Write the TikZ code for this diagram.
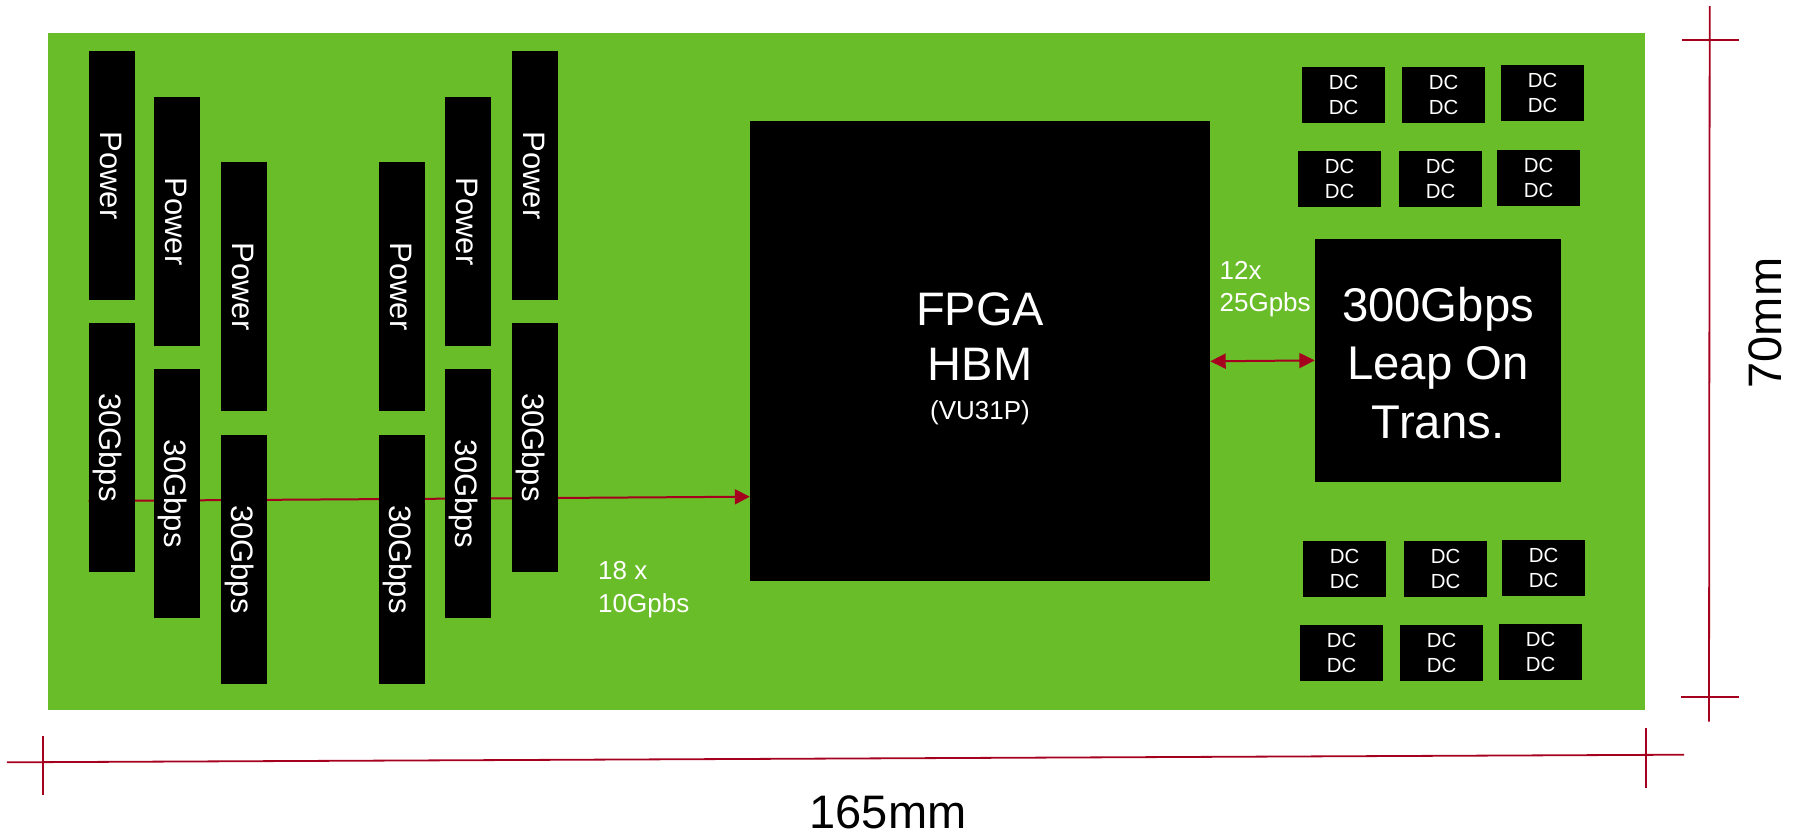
\documentclass[tikz,border=0pt]{standalone}
\usepackage{fontspec}
\usepackage{graphicx}
\setmainfont{Liberation Sans}
\usetikzlibrary{arrows.meta}
\pgfdeclarelayer{boardlayer}
\pgfdeclarelayer{linklayer}
\pgfsetlayers{boardlayer,linklayer,main}
\definecolor{boardgreen}{HTML}{69BD28}
\definecolor{dimred}{HTML}{A6001F}
\newcommand{\fs}[2]{\fontsize{#1pt}{#2pt}\selectfont}
\newcommand{\vtext}[1]{\rotatebox[origin=c]{-90}{\vphantom{Gp}#1}\hspace{8pt}}
\tikzset{
  chip/.style={fill=black,text=white,inner sep=0pt,align=center},
  tallbox/.style={chip,minimum width=46pt,minimum height=249pt,font=\fs{31}{36}},
  dcbox/.style={chip,minimum width=83pt,minimum height=56pt,font=\fs{20.4}{24.5}},
  dimline/.style={draw=dimred,line width=1.8pt},
  link/.style={draw=dimred,line width=2pt},
  speed/.style={text=white,inner sep=0pt,anchor=base west,align=left,font=\fs{26}{32.5}},
  dimtext/.style={inner sep=0pt,text=black,font=\fs{47}{50}}
}
\begin{document}
\begin{tikzpicture}[x=1pt,y=-1pt]
\useasboundingbox (0,0) rectangle (1797,833);
\begin{pgfonlayer}{boardlayer}
\node[fill=boardgreen,inner sep=0pt,minimum width=1597pt,minimum height=677pt] (board) at (846.5,371.3) {};
\end{pgfonlayer}
% power and link boxes
\node[tallbox] (p1) at (111.9,175.5) {\vtext{Power}};
\node[tallbox] (g1) at (111.9,447.4) {\vtext{30Gbps}};
\node[tallbox] (p2) at (177,221.5) {\vtext{Power}};
\node[tallbox] (g2) at (177,493.4) {\vtext{30Gbps}};
\node[tallbox] (p3) at (244,286.5) {\vtext{Power}};
\node[tallbox] (g3) at (244,559.4) {\vtext{30Gbps}};
\node[tallbox] (p4) at (402,286.5) {\vtext{Power}};
\node[tallbox] (g4) at (402,559.4) {\vtext{30Gbps}};
\node[tallbox] (p5) at (468,221.5) {\vtext{Power}};
\node[tallbox] (g5) at (468,493.4) {\vtext{30Gbps}};
\node[tallbox] (p6) at (535,175.5) {\vtext{Power}};
\node[tallbox] (g6) at (535,447.4) {\vtext{30Gbps}};
% main chips
\node[chip,minimum width=460pt,minimum height=460pt,font=\fs{47}{55}] (fpga) at (980,351) {\rule{0pt}{48.4pt}FPGA\\HBM\\[-16.4pt]\fs{26}{30}(VU31P)};
\node[chip,minimum width=246pt,minimum height=243pt,font=\fs{47.3}{58.5}] (trans) at (1438,360.4) {\rule{0pt}{39pt}300Gbps\\Leap On\\Trans.};
% DC-DC converters
\node[dcbox] (d11) at (1343.5,95) {DC\\DC};
\node[dcbox] (d12) at (1443.5,95) {DC\\DC};
\node[dcbox] (d13) at (1542.5,93) {DC\\DC};
\node[dcbox] (d21) at (1339.5,179) {DC\\DC};
\node[dcbox] (d22) at (1440.7,179) {DC\\DC};
\node[dcbox] (d23) at (1538.7,178) {DC\\DC};
\node[dcbox] (d31) at (1344.7,569) {DC\\DC};
\node[dcbox] (d32) at (1445.5,569) {DC\\DC};
\node[dcbox] (d33) at (1543.5,568) {DC\\DC};
\node[dcbox] (d41) at (1341.5,653) {DC\\DC};
\node[dcbox] (d42) at (1441.5,653) {DC\\DC};
\node[dcbox] (d43) at (1540.5,652) {DC\\DC};
% connectors
\begin{pgfonlayer}{linklayer}
\draw[link,-{Triangle[length=15pt,width=15pt]}] ([yshift=-53.6pt]g1.west) -- ([yshift=-145.7pt]fpga.west);
\end{pgfonlayer}
\draw[link,{Triangle[length=15.5pt,width=15pt]}-{Triangle[length=15.5pt,width=15pt]}] ([yshift=-10.3pt]fpga.east) -- (trans.west);
% speed labels
\node[speed] (l18) at (598,612) {18 x\\10Gpbs};
\node[speed] (l12) at (1219.4,311.7) {12x\\25Gpbs};
% dimensions
\coordinate (hl) at (7,762.3);
\coordinate (hr) at (1684,754.7);
\coordinate (hlt) at (43,736);
\coordinate (hlb) at (43,795);
\coordinate (hrt) at (1645.6,728);
\coordinate (hrb) at (1645.6,787.7);
\coordinate (vt) at (1709.7,6);
\coordinate (vb) at (1709,721.7);
\coordinate (vtl) at (1681.8,39.7);
\coordinate (vtr) at (1739,39.7);
\coordinate (vbl) at (1681.3,696.7);
\coordinate (vbr) at (1739,696.7);
\draw[dimline] (hl) -- (hr);
\draw[dimline] (hlt) -- (hlb);
\draw[dimline] (hrt) -- (hrb);
\draw[dimline] (vt) -- (vb);
\draw[dimline] (vtl) -- (vtr);
\draw[dimline] (vbl) -- (vbr);
\node[dimtext,anchor=base] (w165) at (888,828) {165mm};
\node[dimtext,anchor=base,rotate=90] (h70) at (1781,323) {70mm};
\end{tikzpicture}
\end{document}
